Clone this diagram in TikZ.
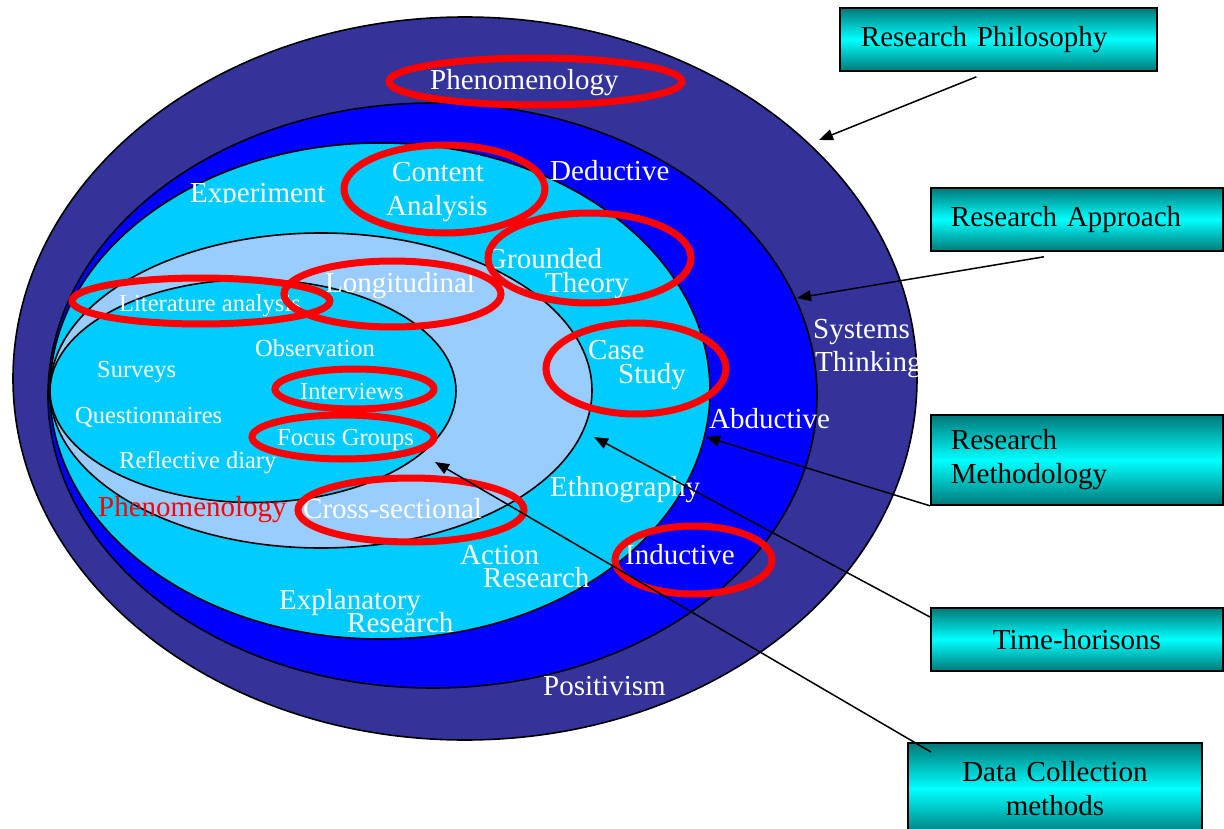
\documentclass[tikz,border=0pt]{standalone}
\usepackage{fontspec}
\setmainfont{Liberation Serif}
\usetikzlibrary{arrows.meta}
\definecolor{navy}{RGB}{51,51,153}
\definecolor{rblue}{RGB}{0,0,255}
\definecolor{rcyan}{RGB}{0,204,255}
\definecolor{lblue}{RGB}{153,204,255}
\definecolor{tealdark}{RGB}{0,120,120}
\definecolor{tealbright}{RGB}{0,255,255}
\tikzset{
  ring/.style={draw=black, line width=1.6pt},
  redring/.style={draw=red, line width=7pt},
  big/.style={font=\fontsize{29}{34}\selectfont, inner sep=0pt},
  small/.style={font=\fontsize{24.5}{28}\selectfont, inner sep=0pt},
  lab/.style={text=white, anchor=base west},
  labbox/.style={draw=black, line width=1.8pt, top color=tealdark, bottom color=tealdark,
    middle color=tealbright, text=black, font=\fontsize{29}{34}\selectfont,
    inner ysep=0pt, anchor=north west},
  arr/.style={draw=black, line width=1.5pt, -{Triangle[length=14pt,width=11pt]}}
}
\begin{document}
\begin{tikzpicture}[x=1pt,y=-1pt]
\useasboundingbox (0,0) rectangle (1224,829);
\fill[white] (0,0) rectangle (1224,829);
% onion layers
\draw[ring, fill=navy] (465,378.5) ellipse [x radius=452, y radius=361.5];
\draw[ring, fill=rblue] (432.5,395.5) ellipse [x radius=384.5, y radius=292.5];
\draw[ring, fill=rcyan] (380,391) ellipse [x radius=330, y radius=248];
\draw[ring, fill=lblue] (321,390.5) ellipse [x radius=271, y radius=157.5];
\draw[ring, fill=rcyan] (253,391) ellipse [x radius=203, y radius=111.5];
% texts
\node[big,lab] (tPhen) at (430,90) {Phenomenology};
\node[big,lab] (tPos) at (543,695) {Positivism};
\node[big,lab] (tSys) at (813,338) {Systems};
\node[big,lab] (tThink) at (815,371) {Thinking};
\node[big,lab] (tDed) at (550,181) {Deductive};
\node[big,lab] (tAbd) at (709,428) {Abductive};
\node[big,lab] (tInd) at (625,564) {Inductive};
\begin{scope}
\clip (185,160) rectangle (340,203);
\node[big,lab] (tExp) at (190,203) {Experiment};
\end{scope}
\node[big,lab] (tCont) at (392,182) {Content};
\node[big,lab] (tAna) at (386,216) {Analysis};
\node[big,lab] (tGro) at (486,269) {Grounded};
\node[big,lab] (tThe) at (545,293) {Theory};
\node[big,lab] (tCase) at (588,359) {Case};
\node[big,lab] (tStudy) at (618,383) {Study};
\node[big,lab] (tEth) at (550,496) {Ethnography};
\node[big,lab] (tAct) at (460,564) {Action};
\node[big,lab] (tAR) at (483,587) {Research};
\node[big,lab] (tExpl) at (279,609) {Explanatory};
\node[big,lab] (tER) at (347,632) {Research};
\node[big,lab] (tLong) at (325,292) {Longitudinal};
\node[big,lab] (tCross) at (303,518) {Cross-sectional};
\node[big,anchor=base west,text=red] (tPhenRed) at (98,516) {Phenomenology};
\node[small,lab] (tLit) at (119,311) {Literature analysis};
\node[small,lab] (tObs) at (255,356) {Observation};
\node[small,lab] (tSur) at (97,377) {Surveys};
\node[small,lab] (tInt) at (300,399) {Interviews};
\node[small,lab] (tQue) at (75,423) {Questionnaires};
\node[small,lab] (tFoc) at (277,445) {Focus Groups};
\node[small,lab] (tRef) at (119,468) {Reflective diary};
% red highlight rings
\draw[redring] (535.5,81.5) ellipse [x radius=146.5, y radius=23.5];
\draw[redring] (444.5,189) ellipse [x radius=100.5, y radius=44];
\draw[redring] (589.5,258) ellipse [x radius=101.5, y radius=45];
\draw[redring] (636,368.5) ellipse [x radius=90, y radius=45.5];
\draw[redring] (693.5,560) ellipse [x radius=78.5, y radius=34];
\draw[redring] (392.5,294) ellipse [x radius=108.5, y radius=33];
\draw[redring] (201,301) ellipse [x radius=129, y radius=23];
\draw[redring] (354.5,389) ellipse [x radius=79.5, y radius=20];
\draw[redring] (343,437) ellipse [x radius=91, y radius=22];
\draw[redring] (411,510) ellipse [x radius=113, y radius=32];
% label boxes
\node[labbox, minimum width=317pt, minimum height=63pt, text width=275pt, inner xsep=21pt, align=left] (rp) at (839,7) {Research Philosophy};
\node[labbox, minimum width=292pt, minimum height=63pt, text width=252pt, inner xsep=20pt, align=left] (ra) at (930,187) {Research Approach};
\node[labbox, minimum width=292pt, minimum height=90pt, text width=252pt, inner xsep=20pt, align=left] (rm) at (930,414) {Research\\Methodology};
\node[labbox, minimum width=292pt, minimum height=63pt, text width=252pt, inner xsep=20pt, align=center] (th) at (930,607) {Time-horisons};
\node[labbox, minimum width=294pt, minimum height=92pt, text width=254pt, inner xsep=20pt, align=center] (dc) at (907,742) {Data Collection\\methods};
% arrow targets
\coordinate (pPhil) at (819,140);
\coordinate (pAppr) at (797,298);
\coordinate (pMeth) at (706,437);
\coordinate (pTime) at (594,437);
\coordinate (pData) at (435,462);
\draw[arr] ([xshift=-22pt,yshift=-5pt]rp.south) -- (pPhil);
\draw[arr] ([xshift=-33pt,yshift=-5pt]ra.south) -- (pAppr);
\draw[arr] (rm.south west) -- (pMeth);
\draw[arr] ([yshift=-10pt]th.north west) -- (pTime);
\draw[arr] ([xshift=24pt,yshift=-10pt]dc.north west) -- (pData);
\end{tikzpicture}
\end{document}
